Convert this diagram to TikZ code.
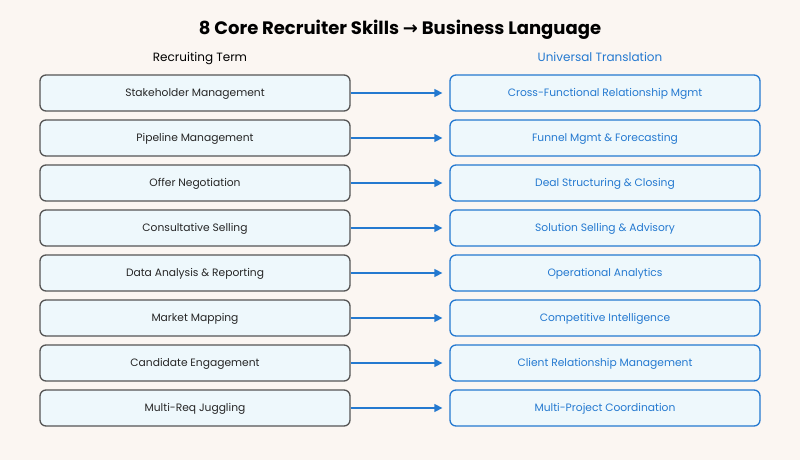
\documentclass[tikz,border=0pt]{standalone}
\usepackage{fontspec}
\setmainfont{Poppins}
\newfontfamily\symfont{DejaVu Sans}
\usetikzlibrary{arrows.meta}
\definecolor{bgcream}{HTML}{FBF6F2}
\definecolor{boxfill}{HTML}{EEF8FC}
\definecolor{termline}{HTML}{555555}
\definecolor{transblue}{HTML}{2479D0}
\begin{document}
\begin{tikzpicture}[x=1pt,y=-1pt,
    termbox/.style={draw=termline, line width=1.3pt, fill=boxfill, rounded corners=6pt,
        minimum width=310pt, minimum height=36pt, inner sep=0pt,
        text height=8.2pt, text depth=1pt,
        font=\fontsize{10.7}{13}\selectfont, text=black!85},
    transbox/.style={termbox, draw=transblue, text=transblue},
    maparrow/.style={draw=transblue, line width=1.4pt, -{Triangle[length=8pt,width=8pt]}},
    heading/.style={anchor=base, font=\fontsize{12}{15}\selectfont}]
    % ---- background ----
    \fill[bgcream] (0,0) rectangle (800,460);
    % ---- title ----
    \node[anchor=base, font=\bfseries\fontsize{18}{22}\selectfont] (title) at (400,35)
        {8 Core Recruiter Skills {\symfont\bfseries →} Business Language};
    \node[heading] (termhead) at (200,62) {Recruiting Term};
    \node[heading, text=transblue] (transhead) at (600,62) {Universal Translation};
    % ---- rows ----
    \foreach \i/\term/\trans in {
        0/Stakeholder Management/Cross-Functional Relationship Mgmt,
        1/Pipeline Management/Funnel Mgmt \& Forecasting,
        2/Offer Negotiation/Deal Structuring \& Closing,
        3/Consultative Selling/Solution Selling \& Advisory,
        4/Data Analysis \& Reporting/Operational Analytics,
        5/Market Mapping/Competitive Intelligence,
        6/Candidate Engagement/Client Relationship Management,
        7/Multi-Req Juggling/Multi-Project Coordination} {
        \node[termbox] (term\i) at (195,{93+45*\i}) {\term};
        \node[transbox] (trans\i) at (605,{93+45*\i}) {\trans};
        \draw[maparrow] (term\i.east) -- ([xshift=-7pt]trans\i.west);
    }
\end{tikzpicture}
\end{document}
